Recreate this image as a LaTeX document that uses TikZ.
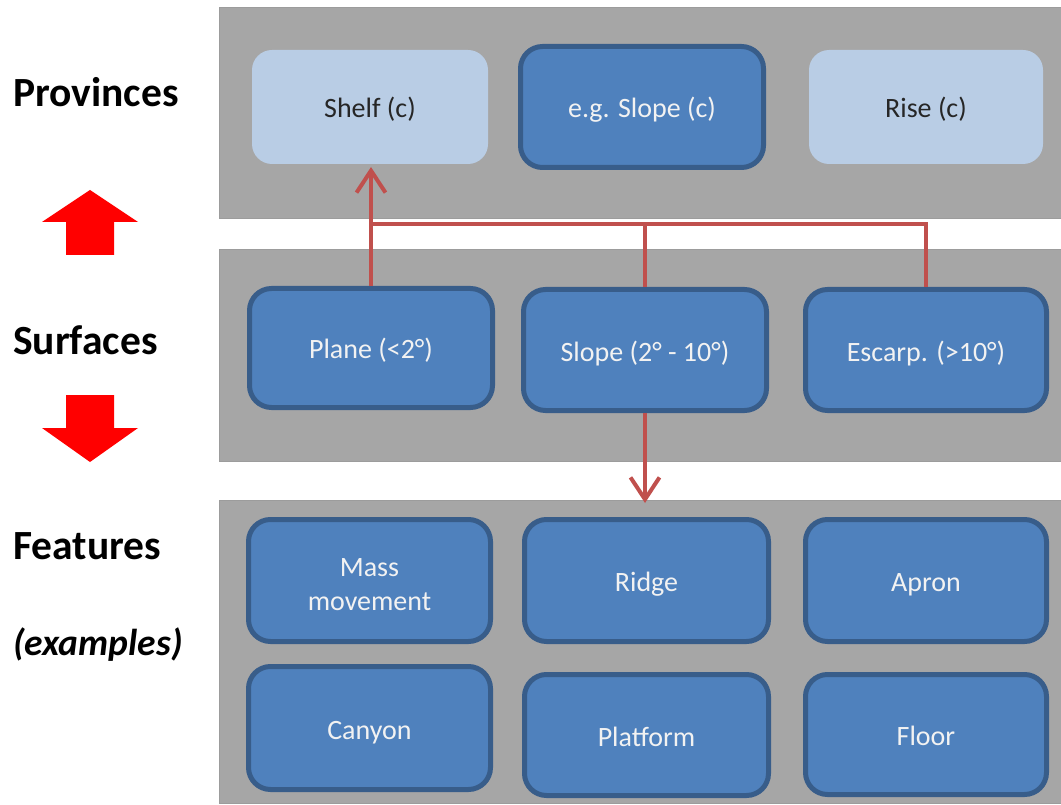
\documentclass[tikz,border=0pt]{standalone}
\usepackage{fontspec}
\setmainfont{Carlito}
\usetikzlibrary{arrows.meta}
\definecolor{panelgray}{HTML}{A6A6A6}
\definecolor{paneledge}{HTML}{9C9C9C}
\definecolor{lightbox}{HTML}{B9CDE5}
\definecolor{darkfill}{HTML}{4F81BD}
\definecolor{darkedge}{HTML}{385D8A}
\definecolor{connred}{HTML}{C0504D}
\definecolor{bigred}{HTML}{FF0000}
\definecolor{darktext}{HTML}{262626}
\definecolor{lighttext}{HTML}{F2F2F2}
\tikzset{
  panel/.style={fill=panelgray, draw=paneledge, line width=0.8pt},
  lightnode/.style={fill=lightbox, rounded corners=20pt, inner sep=0pt,
    minimum width=236pt, minimum height=114pt, text=darktext,
    text height=22pt, text depth=0pt,
    font=\fontsize{28}{34}\selectfont},
  darknode/.style={fill=darkfill, draw=darkedge, line width=5pt, rounded corners=22pt,
    inner sep=0pt, minimum width=243pt, minimum height=121pt, text=lighttext,
    text height=22pt, text depth=0pt,
    align=center, font=\fontsize{28}{34}\selectfont},
  heading/.style={anchor=base west, inner sep=0pt, font=\bfseries\fontsize{41.5}{48}\selectfont},
  conn/.style={draw=connred, line width=4pt},
  barb/.style={-{Straight Barb[length=22pt,width=29pt,line width=4pt]}},
}
\begin{document}
\begin{tikzpicture}[x=1pt,y=-1pt]
\useasboundingbox (0,0) rectangle (1061,805);
% panels
\draw[panel] (219,7) rectangle (1061,218);
\draw[panel] (219,249) rectangle (1061,461);
\draw[panel] (219,500) rectangle (1061,803);
% left headings
\node[heading] (provinces) at (13,107) {Provinces};
\node[heading] (surfaces) at (13,354) {Surfaces};
\node[heading] (features) at (13,559) {Features};
\node[anchor=base west, inner sep=0pt, font=\bfseries\itshape\fontsize{37.5}{44}\selectfont] (examples) at (13,655) {(examples)};
% big red arrows
\fill[bigred] (90,190) -- (138,222) -- (114,222) -- (114,255) -- (66,255) -- (66,222) -- (42,222) -- cycle;
\fill[bigred] (90,462) -- (138,428) -- (114,428) -- (114,395) -- (66,395) -- (66,428) -- (42,428) -- cycle;
% provinces
\node[lightnode] (shelf) at (370,107) {Shelf (c)};
\node[darknode, minimum width=243pt, minimum height=121pt] (eslope) at (642,107) {e.g. Slope (c)};
\node[lightnode, minimum width=234pt] (rise) at (926,107) {Rise (c)};
% surfaces
\node[darknode, minimum height=119pt] (plane) at (371,348) {Plane (<2°)};
\node[darknode] (sslope) at (645,350) {Slope (2° - 10°)};
\node[darknode, minimum width=241pt] (escarp) at (926,350) {Escarp. (>10°)};
% features
\node[darknode, minimum width=242pt, minimum height=122pt, text height={}, text depth={}] (mass) at (369.5,580.5) {\rule{0pt}{27pt}Mass\\movement};
\node[darknode, minimum width=244pt, minimum height=122pt] (ridge) at (646.5,580.5) {Ridge};
\node[darknode, minimum width=241pt, minimum height=122pt] (apron) at (926,580.5) {Apron};
\node[darknode, minimum width=242pt, minimum height=123pt] (canyon) at (369.5,728) {Canyon};
\node[darknode, minimum width=244pt, minimum height=121pt] (platform) at (646.5,735) {Platform};
\node[darknode, minimum width=241pt, minimum height=120pt] (floor) at (926,734.5) {Floor};
% connectors
\coordinate (j) at (371,224);
\coordinate (uptip) at (371,167);
\coordinate (dntip) at (645,503);
\draw[conn] (escarp.north) |- (j);
\draw[conn] (sslope.north) -- (sslope.north |- j);
\draw[conn, barb] (plane.north) -- (uptip);
\draw[conn, barb] (sslope.south) -- (dntip);
\end{tikzpicture}
\end{document}
